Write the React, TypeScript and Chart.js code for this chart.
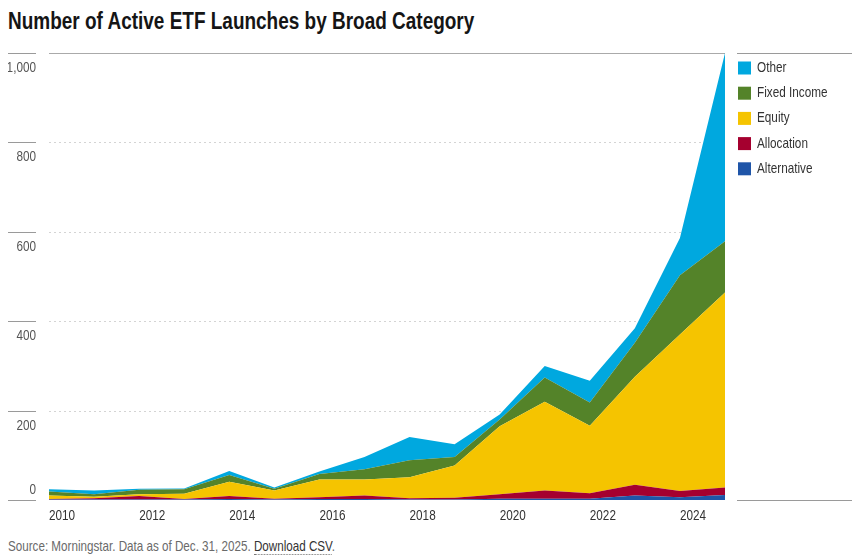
import React, { useEffect, useRef } from "react";
import { Chart, registerables } from "chart.js";

Chart.register(...registerables);

const years = ["2010", "2011", "2012", "2013", "2014", "2015", "2016", "2017", "2018", "2019", "2020", "2021", "2022", "2023", "2024", "2025"];
const alternative = [1, 1, 1, 1, 2, 1, 2, 2, 1, 1, 3, 3, 3, 10, 6, 11];
const allocation = [1, 3, 8, 1, 7, 2, 4, 8, 3, 4, 10, 18, 12, 24, 14, 17];
const equity = [8, 3, 4, 12, 32, 18, 40, 36, 47, 72, 152, 199, 151, 242, 350, 436];
const fixedIncome = [9, 6, 10, 10, 15, 4, 12, 23, 38, 19, 15, 54, 52, 76, 133, 115];
const other = [5, 8, 2, 2, 9, 3, 6, 27, 52, 29, 11, 26, 49, 32, 83, 421];
const yTicks = [0, 200, 400, 600, 800, 1000];
const seriesNames = ["Alternative", "Allocation", "Equity", "Fixed Income", "Other"];
const seriesColors = ["#1f55a8", "#a5002f", "#f5c400", "#548329", "#00a8df"];

const FONT = '"Liberation Sans", Arial, sans-serif';
const SX = 0.81;

function measure(text: string, font: string): number {
  const c = document.createElement("canvas");
  const ctx = c.getContext("2d");
  if (!ctx) return text.length * 8;
  ctx.font = font;
  return ctx.measureText(text).width;
}

function drawText(ctx: any, text: string, x: number, y: number, align: "left" | "right") {
  ctx.save();
  ctx.translate(x, y);
  ctx.scale(SX, 1);
  ctx.textAlign = align;
  ctx.textBaseline = "middle";
  ctx.fillText(text, 0, 0);
  ctx.restore();
}

const decorPlugin = {
  id: "decor",
  beforeDatasetsDraw(chart: any) {
    const { ctx, chartArea: a, scales } = chart;
    const y = scales.y;
    ctx.save();
    yTicks.forEach((v) => {
      if (v === 0) return;
      const py = Math.round(y.getPixelForValue(v)) + 0.5;
      ctx.beginPath();
      ctx.lineWidth = 1;
      ctx.strokeStyle = v === 1000 ? "#aaaaaa" : "#d4d4d4";
      ctx.setLineDash(v === 1000 ? [] : [2, 3]);
      ctx.moveTo(a.left, py);
      ctx.lineTo(a.right, py);
      ctx.stroke();
    });
    ctx.restore();
  },
  afterDraw(chart: any) {
    const { ctx, chartArea: a, scales } = chart;
    const y = scales.y;
    const x = scales.x;
    ctx.save();
    ctx.font = `14.5px ${FONT}`;
    yTicks.forEach((v) => {
      const py = Math.round(y.getPixelForValue(v)) + 0.5;
      ctx.beginPath();
      ctx.setLineDash([]);
      ctx.lineWidth = 1;
      ctx.strokeStyle = "#9a9a9a";
      ctx.moveTo(0, py);
      ctx.lineTo(28, py);
      ctx.stroke();
      ctx.fillStyle = "#555555";
      drawText(ctx, v.toLocaleString("en-US"), 28, v === 0 ? py - 11 : py + 14, "right");
    });

    // x labels
    ctx.fillStyle = "#333333";
    years.forEach((yr, i) => {
      if (i % 2 !== 0) return;
      drawText(ctx, yr, x.getPixelForValue(i), a.bottom + 16, "left");
    });

    // legend
    const x0 = a.right + 12;
    ctx.beginPath();
    ctx.strokeStyle = "#9a9a9a";
    ctx.moveTo(x0, Math.round(a.top) + 0.5);
    ctx.lineTo(x0 + 115, Math.round(a.top) + 0.5);
    ctx.moveTo(x0, Math.round(a.bottom) + 0.5);
    ctx.lineTo(x0 + 115, Math.round(a.bottom) + 0.5);
    ctx.stroke();
    const ds = chart.data.datasets;
    for (let i = ds.length - 1, k = 0; i >= 0; i--, k++) {
      const cy = a.top + 15 + k * 25.2;
      ctx.fillStyle = ds[i].backgroundColor;
      ctx.fillRect(x0 + 1, cy - 6.5, 13, 13);
      ctx.fillStyle = "#333333";
      drawText(ctx, ds[i].label, x0 + 20, cy, "left");
    }
    ctx.restore();
  },
};

const TITLE = "Number of Active ETF Launches by Broad Category";
const FOOT_A = "Source: Morningstar. Data as of Dec. 31, 2025. ";
const FOOT_B = "Download CSV";

export default function App() {
  const ref = useRef<HTMLCanvasElement | null>(null);

  useEffect(() => {
    if (!ref.current) return;
    const series = [alternative, allocation, equity, fixedIncome, other];
    const chart = new Chart(ref.current, {
      type: "line",
      data: {
        labels: years,
        datasets: series.map((d, i) => ({
          label: seriesNames[i],
          data: d,
          backgroundColor: seriesColors[i],
          borderColor: seriesColors[i],
          borderWidth: 0,
          pointRadius: 0,
          pointHoverRadius: 0,
          tension: 0,
          fill: i === 0 ? "origin" : "-1",
        })),
      },
      options: {
        animation: false,
        responsive: true,
        maintainAspectRatio: false,
        layout: { padding: { left: 41, right: 128, top: 13, bottom: 0 } },
        plugins: { legend: { display: false }, tooltip: { enabled: false } },
        scales: {
          x: {
            type: "category",
            offset: false,
            grid: { display: false, drawTicks: false },
            border: { display: false },
            ticks: { display: false, autoSkip: false },
            afterFit: (s: any) => {
              s.height = 30;
            },
          },
          y: {
            stacked: true,
            min: 0,
            max: 1000,
            display: true,
            grid: { display: false, drawTicks: false },
            border: { display: false },
            ticks: { display: false, stepSize: 200 },
            afterFit: (s: any) => {
              s.width = 0;
            },
          },
        },
      },
      plugins: [decorPlugin],
    });
    return () => chart.destroy();
  }, []);

  const titleFont = `bold 23px ${FONT}`;
  const titleScale = 467 / measure(TITLE, titleFont);
  const footFont = `15px ${FONT}`;
  const footScale = 327 / measure(FOOT_A + FOOT_B + ".", footFont);

  return (
    <div style={{ width: 845, fontFamily: FONT }}>
      <div style={{ height: 26, marginBottom: 6, overflow: "visible" }}>
        <div
          style={{
            font: titleFont,
            lineHeight: "26px",
            color: "#151515",
            whiteSpace: "nowrap",
            transform: `scaleX(${titleScale})`,
            transformOrigin: "left center",
            display: "inline-block",
          }}
        >
          {TITLE}
        </div>
      </div>
      <div style={{ position: "relative", width: 845, height: 490 }}>
        <canvas ref={ref} />
      </div>
      <div style={{ marginTop: 7, height: 18 }}>
        <div
          style={{
            font: footFont,
            lineHeight: "18px",
            color: "#6a6a6a",
            whiteSpace: "pre",
            transform: `scaleX(${footScale})`,
            transformOrigin: "left center",
            display: "inline-block",
          }}
        >
          {FOOT_A}
          <span style={{ color: "#333333", borderBottom: "1px dotted #777" }}>{FOOT_B}</span>.
        </div>
      </div>
    </div>
  );
}
